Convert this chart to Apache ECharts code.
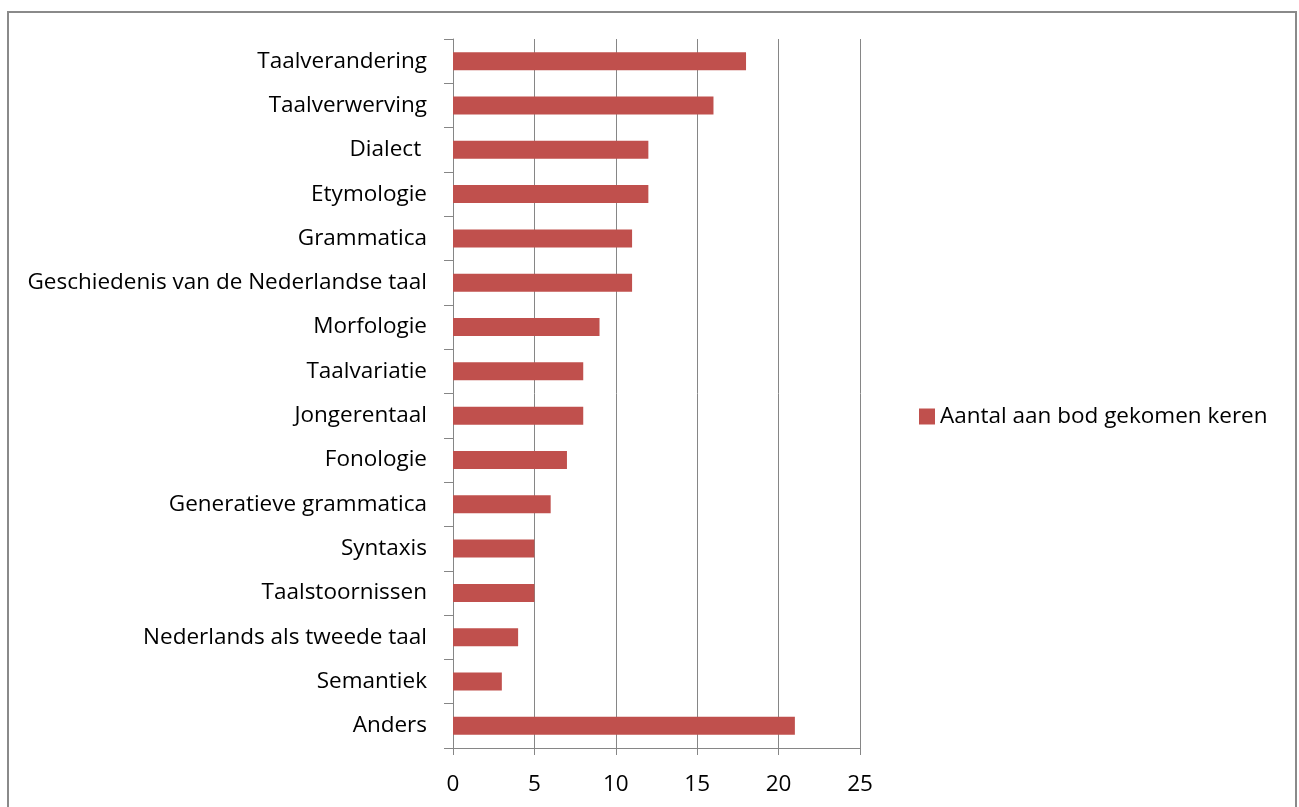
<!DOCTYPE html>
<html>
<head>
<meta charset="utf-8">
<script src="https://cdn.jsdelivr.net/npm/echarts@6/dist/echarts.min.js"></script>
<style>
html,body{margin:0;padding:0;background:#fff;}
#chart{width:1299px;height:807px;}
</style>
</head>
<body>
<div id="chart"></div>
<script>
const categories = [
  "Taalverandering",
  "Taalverwerving",
  "Dialect ",
  "Etymologie",
  "Grammatica",
  "Geschiedenis van de Nederlandse taal",
  "Morfologie",
  "Taalvariatie",
  "Jongerentaal",
  "Fonologie",
  "Generatieve grammatica",
  "Syntaxis",
  "Taalstoornissen",
  "Nederlands als tweede taal",
  "Semantiek",
  "Anders"
];
const seriesName = "Aantal aan bod gekomen keren";
const values = [18, 16, 12, 12, 11, 11, 9, 8, 8, 7, 6, 5, 5, 4, 3, 21];
const xTicks = [0, 5, 10, 15, 20, 25];

const chart = echarts.init(document.getElementById('chart'), null, {renderer: 'canvas'});
const font = "'Open Sans', sans-serif";
chart.setOption({
  animation: false,
  backgroundColor: '#fff',
  graphic: [{
    type: 'rect',
    shape: {x: 8, y: 12, width: 1288, height: 820},
    style: {fill: 'none', stroke: '#8a8a8a', lineWidth: 2},
    silent: true
  }],
  legend: {
    data: [seriesName],
    left: 914,
    top: 400,
    itemWidth: 16,
    itemHeight: 16,
    itemGap: 6,
    icon: 'rect',
    textStyle: {fontFamily: font, fontSize: 22.5, color: '#000'}
  },
  grid: {left: 453, right: 439, top: 39, bottom: 59, containLabel: false},
  xAxis: {
    type: 'value',
    min: xTicks[0],
    max: xTicks[xTicks.length - 1],
    interval: xTicks[1] - xTicks[0],
    axisLine: {show: true, lineStyle: {color: '#868686', width: 1}},
    axisTick: {show: true, length: 7, lineStyle: {color: '#868686'}},
    splitLine: {show: true, lineStyle: {color: '#868686', width: 1}},
    axisLabel: {fontFamily: font, fontSize: 22.5, color: '#000', margin: 25}
  },
  yAxis: {
    type: 'category',
    inverse: true,
    data: categories,
    axisLine: {show: true, lineStyle: {color: '#868686', width: 1}},
    axisTick: {show: true, length: 9, lineStyle: {color: '#868686'}},
    axisLabel: {fontFamily: font, fontSize: 22.5, color: '#000', margin: 26}
  },
  series: [{
    name: seriesName,
    type: 'bar',
    data: values,
    barWidth: 18,
    itemStyle: {color: '#C0504D'}
  }]
});
</script>
</body>
</html>
